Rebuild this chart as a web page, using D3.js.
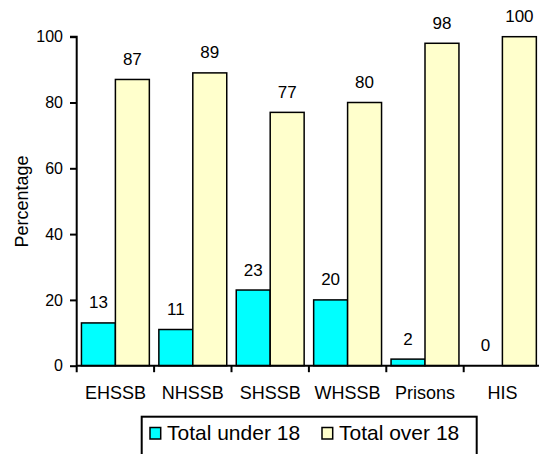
<!DOCTYPE html>
<html>
<head>
<meta charset="utf-8">
<script src="https://d3js.org/d3.v7.min.js"></script>
<style>
  html, body { margin: 0; padding: 0; background: #fff; }
  svg { display: block; font-family: "Liberation Sans", Arial, sans-serif; }
</style>
</head>
<body>
<svg id="chart" width="539" height="454"></svg>
<script>
const categories = ["EHSSB", "NHSSB", "SHSSB", "WHSSB", "Prisons", "HIS"];
const seriesNames = ["Total under 18", "Total over 18"];
const under18 = [13, 11, 23, 20, 2, 0];
const over18 = [87, 89, 77, 80, 98, 100];
const yTicks = [0, 20, 40, 60, 80, 100];
const seriesColors = ["#00FFFF", "#FFFFCC"];

const svg = d3.select("#chart");
const plotLeft = 76.7, plotRight = 541.1, plotTop = 36.7, plotBottom = 365.7;

const x = d3.scaleBand().domain(categories).range([plotLeft, plotRight]).paddingInner(0).paddingOuter(0);
const xs = d3.scaleBand().domain(seriesNames).range([0, x.bandwidth()]).paddingInner(0).paddingOuter(0.14);
const y = d3.scaleLinear().domain([0, 100]).range([plotBottom, plotTop]);

const data = categories.map((c, i) => ({ cat: c, vals: [under18[i], over18[i]] }));

// bars
const g = svg.append("g");
data.forEach(d => {
  d.vals.forEach((v, j) => {
    const bx = x(d.cat) + xs(seriesNames[j]);
    if (v > 0) {
      g.append("rect")
        .attr("x", bx).attr("y", y(v))
        .attr("width", xs.bandwidth()).attr("height", y(0) - y(v))
        .attr("fill", seriesColors[j]).attr("stroke", "#000").attr("stroke-width", 1.5);
    }
    g.append("text")
      .attr("x", bx + xs.bandwidth() / 2).attr("y", y(v) - 14.5)
      .attr("text-anchor", "middle").attr("font-size", 17).attr("fill", "#000")
      .text(v);
  });
});

// y axis
const yAxis = d3.axisLeft(y).tickValues(yTicks).tickSize(6.7).tickPadding(7).tickFormat(d3.format("d"));
const ya = svg.append("g").attr("transform", `translate(${plotLeft},0)`).call(yAxis);
ya.select(".domain").attr("stroke", "#000").attr("stroke-width", 2).attr("d", `M-6.7,${plotTop}H0V${plotBottom + 6.5}`);
ya.selectAll(".tick line").attr("stroke", "#000").attr("stroke-width", 2);
ya.selectAll(".tick text").attr("font-size", 16).attr("font-family", "Liberation Sans, Arial, sans-serif").attr("fill", "#000");

// x axis (ticks at category boundaries)
const xa = svg.append("g");
xa.append("line").attr("x1", plotLeft).attr("x2", 539).attr("y1", plotBottom).attr("y2", plotBottom)
  .attr("stroke", "#000").attr("stroke-width", 2);
categories.forEach((c, i) => {
  if (i > 0) {
    xa.append("line").attr("x1", x(c)).attr("x2", x(c)).attr("y1", plotBottom).attr("y2", plotBottom + 6.5)
      .attr("stroke", "#000").attr("stroke-width", 2);
  }
  xa.append("text").attr("x", x(c) + x.bandwidth() / 2).attr("y", 398.5)
    .attr("text-anchor", "middle").attr("font-size", 18).attr("fill", "#000").text(c);
});

// y title
svg.append("text").attr("transform", "translate(28,201.5) rotate(-90)")
  .attr("text-anchor", "middle").attr("font-size", 18).attr("fill", "#000").text("Percentage");

// legend
const lg = svg.append("g");
lg.append("rect").attr("x", 141.7).attr("y", 416.7).attr("width", 335).attr("height", 40)
  .attr("fill", "#fff").attr("stroke", "#000").attr("stroke-width", 2);
const legendX = [150, 322];
seriesNames.forEach((s, j) => {
  lg.append("rect").attr("x", legendX[j]).attr("y", 427.5).attr("width", 10.7).attr("height", 11.5)
    .attr("fill", seriesColors[j]).attr("stroke", "#000").attr("stroke-width", 1.5);
  lg.append("text").attr("x", legendX[j] + 17).attr("y", 440).attr("font-size", 21).attr("fill", "#000").text(s);
});
</script>
</body>
</html>
